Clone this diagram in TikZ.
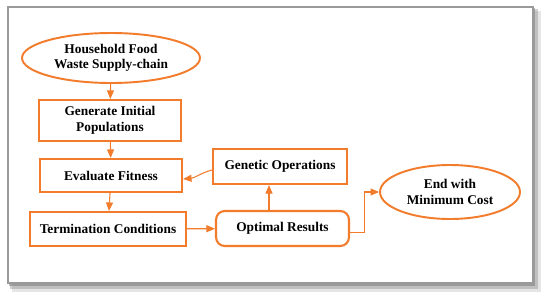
\documentclass[tikz,border=0pt]{standalone}
\usepackage{fontspec}
\setmainfont{Liberation Serif}
\usepackage{xcolor}
\usepackage{tikz}
\usetikzlibrary{positioning,arrows.meta,shapes.geometric,shadows}
\definecolor{gaorange}{HTML}{F27C2C}
\definecolor{framegray}{HTML}{9A9A9A}
\definecolor{shadowgray}{HTML}{7C7C7C}
\tikzset{
    gastep/.style={
        draw=gaorange, fill=white, line width=1.2pt,
        inner sep=1pt, font=\fontsize{7.6}{8.8}\selectfont\bfseries, align=center
    },
    garound/.style={
        gastep, rounded corners=5pt
    },
    gaterm/.style={
        draw=gaorange, fill=white, ellipse, line width=1.1pt,
        inner sep=0pt, font=\fontsize{7.6}{8.8}\selectfont\bfseries, align=center
    },
    arrow/.style={-{Triangle[length=1.7mm,width=1.4mm]}, line width=0.6pt, color=gaorange},
}
\begin{document}
\begin{tikzpicture}[x=0.02cm, y=-0.02cm]
    \useasboundingbox (0,0) rectangle (550,301);
    % outer frame with shadow
    \fill[shadowgray, opacity=0.2] (12,11) rectangle (541,292);
    \fill[shadowgray, opacity=0.35] (10,9) rectangle (538,289);
    \fill[shadowgray, opacity=0.55] (9,8) rectangle (535,286);
    \draw[framegray, fill=white, line width=0.6pt] (8,7) rectangle (533,283);

    % left column
    \node[gaterm, minimum width=3.56cm, minimum height=1.0cm] (source) at (111,58) {Household Food\\Waste Supply-chain};
    \node[gastep, minimum width=2.84cm, minimum height=0.82cm] (init) at (110,120.5) {Generate Initial\\Populations};
    \node[gastep, minimum width=2.84cm, minimum height=0.66cm] (fitness) at (111,175.5) {Evaluate Fitness};
    \node[gastep, minimum width=3.12cm, minimum height=0.68cm] (termination) at (108,229) {Termination Conditions};

    % right part
    \node[gastep, minimum width=2.68cm, minimum height=0.70cm] (genetic) at (280,166.5) {Genetic Operations};
    \node[garound, minimum width=2.66cm, minimum height=0.70cm] (optimal) at (282.5,228.5) {Optimal Results};
    \node[gaterm, minimum width=2.80cm, minimum height=1.08cm] (finish) at (450,192) {End with\\Minimum Cost};

    \draw[arrow] (source) -- (init);
    \draw[arrow] (init) -- (fitness);
    \draw[arrow] (fitness) -- (termination);
    \draw[arrow] (termination) -- (optimal);
    \draw[arrow] (optimal.north -| genetic.south) ++(-11,0) coordinate (up) -- (up |- genetic.south);
    \draw[arrow] ([yshift=-2pt]genetic.west) to[out=195,in=5] ([yshift=-2pt]fitness.east);
    \draw[arrow] ([yshift=-2.5pt]optimal.east) -- ++(14,0) |- (finish.west);
\end{tikzpicture}
\end{document}
